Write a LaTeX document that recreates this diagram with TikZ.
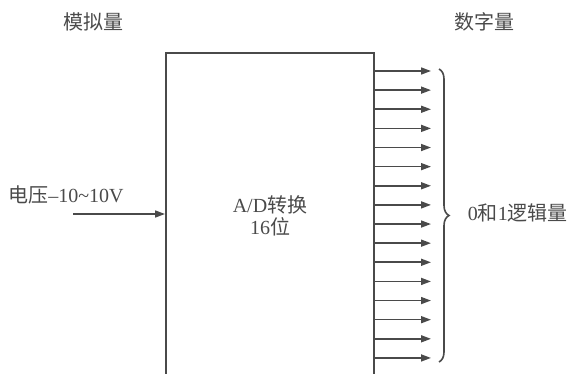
\documentclass[tikz,border=0pt]{standalone}
\usepackage{fontspec}
\setmainfont{Liberation Serif}
\newfontfamily\cjk{Noto Sans CJK SC}
\usetikzlibrary{arrows.meta,decorations.pathreplacing,calc}
\definecolor{ink}{HTML}{4A4A4A}
\begin{document}
\begin{tikzpicture}[x=1pt,y=-1pt,
  line width=1.6pt, draw=ink, text=ink,
  txt/.style={font=\fontsize{20}{24}\selectfont, inner sep=0pt, text=ink},
  sig/.style={draw=ink, -{Triangle[length=10pt,width=7pt]}},
  boxst/.style={draw=ink, line width=1.6pt, minimum width=208pt, minimum height=330pt, inner sep=0pt, anchor=north west}]
\useasboundingbox (0,0) rectangle (568,374);
\clip (0,0) rectangle (568,374);
% box
\node[boxst] (ad) at (165,52) {};
\node[txt] (t1) at (270,205) {A/D{\cjk 转换}};
\node[txt] (t2) at (270,227) {16{\cjk 位}};
% headings
\node[txt] (h1) at (93,22) {\cjk 模拟量};
\node[txt] (h2) at (484,22) {\cjk 数字量};
% input
\node[txt] (vin) at (66,195) {{\cjk 电压}–10\textasciitilde10V};
\coordinate (in) at (73,214);
\draw[sig] (in) -- (in -| ad.west);
% outputs
\foreach \i in {0,...,15}{
  \coordinate (o\i) at (431,{71+\i*19.13});
  \draw[sig] (o\i -| ad.east) -- (o\i);
}
% brace
\coordinate (bt) at (439,69);
\coordinate (bb) at (439,362);
\draw[ink, decorate, decoration={brace, amplitude=10pt, aspect=0.5}] (bt) -- (bb);
\node[txt, anchor=west] (lg) at (467,213) {0{\cjk 和}1{\cjk 逻辑量}};
\end{tikzpicture}
\end{document}
